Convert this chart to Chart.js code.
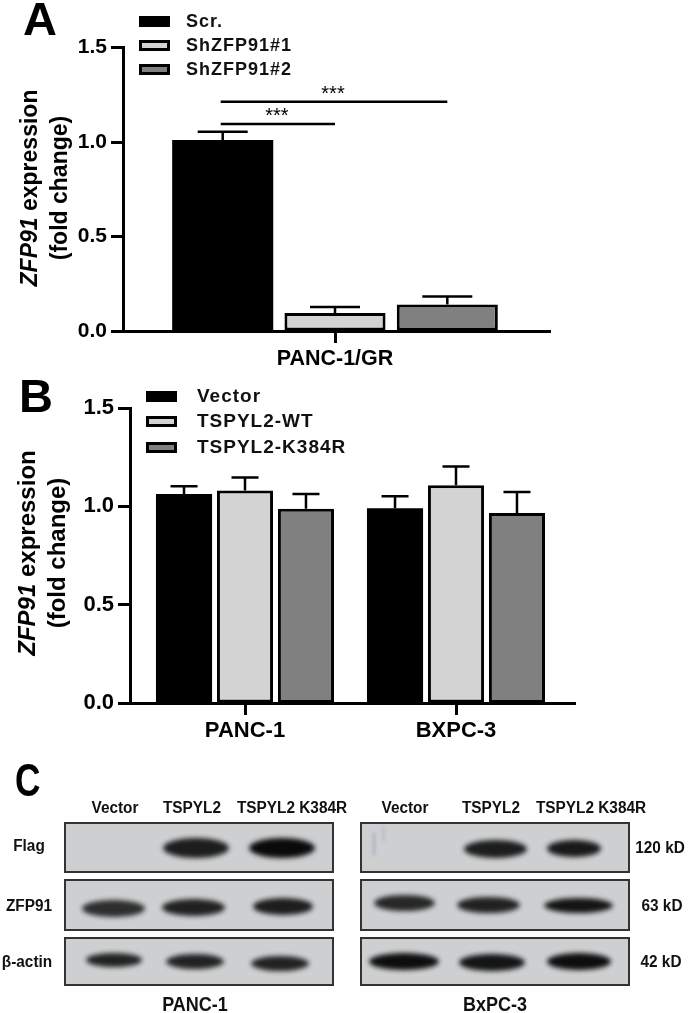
<!DOCTYPE html>
<html>
<head>
<meta charset="utf-8">
<title>ZFP91 expression</title>
<script src="https://cdn.jsdelivr.net/npm/chart.js@4/dist/chart.umd.min.js"></script>
<style>
    html, body { margin: 0; padding: 0; background: #fff; }
    body { position: relative; width: 688px; height: 1013px; overflow: hidden; font-family: "Liberation Sans", Arial, sans-serif; color: #000; }
    canvas { position: absolute; left: 0; }
    .letter { position: absolute; font-weight: bold; font-size: 47px; line-height: 47px; }
    .ytitle { position: absolute; font-weight: bold; white-space: nowrap; transform: translate(-50%, -50%) rotate(-90deg); }
    .swatch { position: absolute; box-sizing: border-box; width: 31px; height: 11px; border: 3px solid #000; }
    .legend { position: absolute; font-weight: bold; letter-spacing: 1px; white-space: nowrap; transform: translateY(-50%); color: #111; }
    .blot { position: absolute; box-sizing: border-box; background: #cdcfd1; border: 2px solid #333; overflow: hidden; filter: blur(0.4px); }
    .band { position: absolute; border-radius: 50%; background: #0a0a0a; filter: blur(2.6px); }
    .lbl { position: absolute; font-weight: bold; font-size: 16px; white-space: nowrap; transform: translate(-50%, -50%) scaleX(0.96); color: #111; filter: blur(0.3px); }
</style>
</head>
<body>
<canvas id="chartA" width="688" height="370" style="top:0"></canvas>
<canvas id="chartB" width="688" height="390" style="top:370px"></canvas>

<div class="letter" style="left:23px;top:-5px">A</div>
<div class="letter" style="left:19px;top:372px">B</div>
<div class="letter" style="left:15px;top:756px;transform:scaleX(.75);transform-origin:left">C</div>

<div class="ytitle" style="left:29px;top:188px;font-size:23px"><i>ZFP91</i> expression</div>
<div class="ytitle" style="left:59px;top:188px;font-size:23px">(fold change)</div>
<div class="ytitle" style="left:27px;top:553px;font-size:24px"><i>ZFP91</i> expression</div>
<div class="ytitle" style="left:57px;top:553px;font-size:24px">(fold change)</div>

<div id="legendA"></div>
<div id="legendB"></div>
<div id="blots"></div>

<script>
const COLORS = ['#000000', '#d3d3d3', '#808080'];

// panel A
const groupsA = ['PANC-1/GR'];
const legendNamesA = ['Scr.', 'ShZFP91#1', 'ShZFP91#2'];
const scr = [1.01];
const sh1 = [0.095];
const sh2 = [0.14];
const scrErr = [0.044];
const sh1Err = [0.032];
const sh2Err = [0.043];
const sigHeights = [1.095, 1.213];
const sigLabels = ['***', '***'];

// panel B
const groupsB = ['PANC-1', 'BXPC-3'];
const legendNamesB = ['Vector', 'TSPYL2-WT', 'TSPYL2-K384R'];
const vector = [1.0625, 0.99];
const wt = [1.081, 1.107];
const k384r = [0.988, 0.966];
const vectorErr = [0.04, 0.061];
const wtErr = [0.065, 0.096];
const k384rErr = [0.075, 0.107];

const yTicks = [0, 0.5, 1, 1.5];

// the categories aren't centred under the axis line, so place them along the scale by hand
class ShiftedCategory extends Chart.CategoryScale {
    configure() {
        super.configure();
        this._startValue = -this.options.firstCenter / this.options.step;
        this._valueRange = this._length / this.options.step;
    }
}
ShiftedCategory.id = 'shiftedCategory';
ShiftedCategory.defaults = Chart.CategoryScale.defaults;
Chart.register(ShiftedCategory);

const errorBars = {
    id: 'errorBars',
    beforeDatasetsDraw(chart, args, opts) {
        const ctx = chart.ctx;
        const y = chart.scales.y;
        ctx.save();
        ctx.strokeStyle = '#000';
        ctx.lineWidth = 2.5;
        opts.errors.forEach((errs, i) => {
            chart.getDatasetMeta(i).data.forEach((bar, j) => {
                const top = y.getPixelForValue(chart.data.datasets[i].data[j] + errs[j]);
                ctx.beginPath();
                ctx.moveTo(bar.x, bar.y);
                ctx.lineTo(bar.x, top);
                ctx.moveTo(bar.x - opts.cap / 2, top);
                ctx.lineTo(bar.x + opts.cap / 2, top);
                ctx.stroke();
            });
        });
        ctx.restore();
    }
};

const sigBrackets = {
    id: 'sigBrackets',
    afterDatasetsDraw(chart, args, opts) {
        if (!opts.heights) return;
        const ctx = chart.ctx;
        const start = chart.getDatasetMeta(0).data[0].x;
        ctx.save();
        ctx.strokeStyle = '#000';
        ctx.fillStyle = '#000';
        ctx.lineWidth = 2.5;
        ctx.font = '20px "Liberation Sans"';
        ctx.textAlign = 'center';
        opts.heights.forEach((h, i) => {
            const end = chart.getDatasetMeta(i + 1).data[0].x;
            const y = chart.scales.y.getPixelForValue(h);
            ctx.beginPath();
            ctx.moveTo(start - 2, y);
            ctx.lineTo(end, y);
            ctx.stroke();
            ctx.fillText(opts.labels[i], (start + end) / 2 - 2, y - 2);
        });
        ctx.restore();
    }
};

function makeDatasets(series, catPct, barPct) {
    return series.map((data, i) => ({
        data: data,
        backgroundColor: COLORS[i],
        borderColor: '#000',
        borderWidth: i === 0 ? 0 : 3,
        borderSkipped: false,
        categoryPercentage: catPct,
        barPercentage: barPct
    }));
}

function makeOptions(xPlace, padding, yWidth, xHeight, pluginOpts, tickSize) {
    return {
        responsive: false,
        animation: false,
        devicePixelRatio: 1,
        layout: { padding: padding },
        plugins: Object.assign({ legend: { display: false }, tooltip: { enabled: false } }, pluginOpts),
        scales: {
            x: Object.assign({
                type: 'shiftedCategory',
                offset: true,
                grid: { offset: false, drawOnChartArea: false, tickLength: 12, tickWidth: 3, tickColor: '#000' },
                border: { color: '#000', width: 3 },
                ticks: { color: '#000', font: { family: 'Liberation Sans', size: tickSize.x, weight: 'bold' }, padding: 3, maxRotation: 0 },
                afterFit: scale => { scale.height = xHeight; }
            }, xPlace),
            y: {
                min: 0,
                max: 1.5,
                afterBuildTicks: scale => { scale.ticks = yTicks.map(v => ({ value: v })); },
                grid: { drawOnChartArea: false, tickLength: 12, tickWidth: 3, tickColor: '#000' },
                border: { color: '#000', width: 3 },
                ticks: { color: '#000', font: { family: 'Liberation Sans', size: tickSize.y, weight: 'bold' }, padding: 4, callback: v => v.toFixed(1) },
                afterFit: scale => { scale.width = yWidth; }
            }
        }
    };
}

new Chart(document.getElementById('chartA'), {
    type: 'bar',
    data: { labels: groupsA, datasets: makeDatasets([scr, sh1, sh2], 0.789, 0.9) },
    options: makeOptions({ firstCenter: 212, step: 424 }, { left: 0, right: 138, top: 47.5, bottom: 0 }, 123, 39, {
        errorBars: { errors: [scrErr, sh1Err, sh2Err], cap: 50 },
        sigBrackets: { heights: sigHeights, labels: sigLabels }
    }, { x: 21.5, y: 21 }),
    plugins: [errorBars, sigBrackets]
});

new Chart(document.getElementById('chartB'), {
    type: 'bar',
    data: { labels: groupsB, datasets: makeDatasets([vector, wt, k384r], 0.867, 0.92) },
    options: makeOptions({ firstCenter: 115, step: 211 }, { left: 0, right: 113, top: 38, bottom: 0 }, 130, 57, {
        errorBars: { errors: [vectorErr, wtErr, k384rErr], cap: 27 }
    }, { x: 22, y: 22 }),
    plugins: [errorBars]
});

function buildLegend(id, names, swatchX, textX, rows, font) {
    const root = document.getElementById(id);
    names.forEach((name, i) => {
        const s = document.createElement('div');
        s.className = 'swatch';
        s.style.cssText = `left:${swatchX}px;top:${rows[i] - 5}px;background:${COLORS[i]}`;
        const t = document.createElement('div');
        t.className = 'legend';
        t.textContent = name;
        t.style.cssText = `left:${textX}px;top:${rows[i]}px;font-size:${font}px`;
        root.append(s, t);
    });
}
buildLegend('legendA', legendNamesA, 139, 186, [21, 45, 69], 18);
buildLegend('legendB', legendNamesB, 146, 197, [396, 421, 447], 19);

// panel C: western blot picture, boxes and bands
const blotBoxes = [
    [64, 822, 270, 51], [360, 822, 270, 51],
    [64, 879, 270, 52], [360, 879, 270, 52],
    [64, 937, 270, 49], [360, 937, 270, 49]
];
const blotBands = [
    [163, 66, 848, 0.9, 20], [249, 66, 848, 1, 20], [464, 63, 849, 0.9, 18], [547, 54, 848, 0.92, 17],
    [82, 63, 908, 0.82, 17], [162, 63, 907, 0.88, 17], [253, 60, 906, 0.9, 17],
    [374, 61, 903, 0.85, 16], [457, 63, 905, 0.88, 16], [544, 69, 905, 0.95, 15],
    [86, 56, 960, 0.88, 14], [166, 58, 961, 0.88, 15], [251, 58, 963, 0.88, 15],
    [369, 70, 961, 0.98, 17], [459, 66, 962, 0.95, 17], [547, 64, 961, 0.98, 17]
];
const blotLabels = [
    ['Vector', 115, 808], ['TSPYL2', 192, 808], ['TSPYL2 K384R', 292, 808],
    ['Vector', 405, 808], ['TSPYL2', 491, 808], ['TSPYL2 K384R', 591, 808],
    ['Flag', 29, 846], ['ZFP91', 29, 906], ['β-actin', 27, 962],
    ['120 kD', 660, 848], ['63 kD', 662, 906], ['42 kD', 661, 962]
];
const blotCaptions = [['PANC-1', 195, 1004], ['BxPC-3', 495, 1004]];

const blots = document.getElementById('blots');
function addDiv(cls, css, text) {
    const d = document.createElement('div');
    d.className = cls;
    d.style.cssText = css;
    if (text) d.textContent = text;
    blots.append(d);
}
blotBoxes.forEach(b => addDiv('blot', `left:${b[0]}px;top:${b[1]}px;width:${b[2]}px;height:${b[3]}px`));
blotBands.forEach(b => addDiv('band', `left:${b[0]}px;top:${b[2] - b[4] / 2}px;width:${b[1]}px;height:${b[4]}px;opacity:${b[3]}`));
addDiv('band', 'left:372px;top:832px;width:4px;height:24px;background:#aab0c4;opacity:.6;filter:blur(1.5px);border-radius:2px');
addDiv('band', 'left:382px;top:826px;width:3px;height:16px;background:#aab0c4;opacity:.5;filter:blur(1.5px);border-radius:2px');
blotLabels.forEach(l => addDiv('lbl', `left:${l[1]}px;top:${l[2]}px`, l[0]));
blotCaptions.forEach(l => addDiv('lbl', `left:${l[1]}px;top:${l[2]}px;font-size:20px;transform:translate(-50%,-50%) scaleX(.9)`, l[0]));
</script>
</body>
</html>
